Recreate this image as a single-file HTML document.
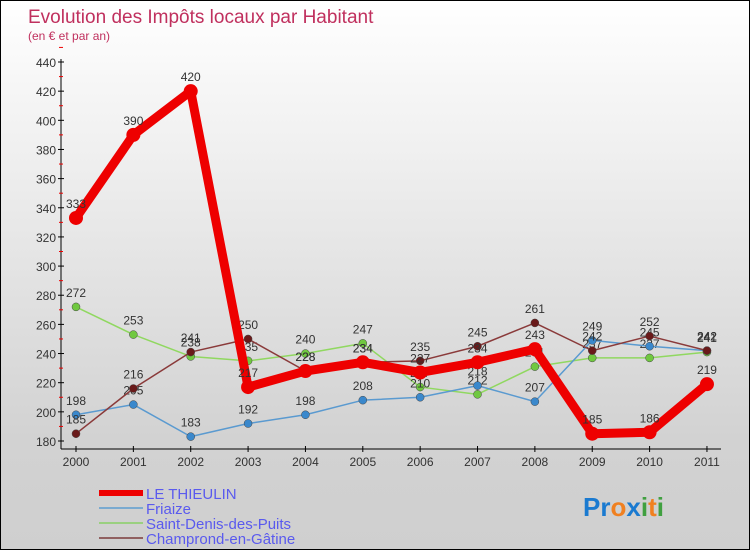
<!DOCTYPE html>
<html><head><meta charset="utf-8"><style>
body{margin:0}
#c{width:748px;height:548px;border:1px solid #000;background:linear-gradient(#fff,#d2d2d2 80%,#cfcfcf);position:relative;overflow:hidden;font-family:"Liberation Sans",sans-serif}
</style></head><body>
<div id="c">
<svg width="748" height="548" id="svg">
<text x="27" y="22" font-size="19" fill="#c0305e">Evolution des Impôts locaux par Habitant</text>
<text x="27" y="39" font-size="12" fill="#c0305e">(en € et par an)</text>
<g id="axes"></g><g id="series"></g><g id="legend"></g>
<text x="582" y="515" font-size="26" font-weight="bold"><tspan fill="#1a7ad0">Pr</tspan><tspan fill="#f08020">o</tspan><tspan fill="#1a7ad0">x</tspan><tspan fill="#40a040">i</tspan><tspan fill="#f08020">t</tspan><tspan fill="#40a040">i</tspan></text>
</svg></div>
<script>
const years=["2000","2001","2002","2003","2004","2005","2006","2007","2008","2009","2010","2011"];
const yTicks=[180,200,220,240,260,280,300,320,340,360,380,400,420,440];
const thieulin=[333,390,420,217,228,234,227,234,243,185,186,219];
const friaize=[198,205,183,192,198,208,210,218,207,249,245,242];
const saintDenis=[272,253,238,235,240,247,217,212,231,237,237,241];
const champrond=[185,216,241,250,228,234,235,245,261,242,252,242];
const names=["LE THIEULIN","Friaize","Saint-Denis-des-Puits","Champrond-en-Gâtine"];
const NS="http://www.w3.org/2000/svg";
function X(i){return 75+i*57.36;}
function Y(v){return 440-(v-180)*379/260;}
function mk(t,a,p){const e=document.createElementNS(NS,t);for(const k in a)e.setAttribute(k,a[k]);p.appendChild(e);return e;}
const ax=document.getElementById('axes');
const yl=mk('line',{x1:60,y1:58,x2:60,y2:448,stroke:'#000'},ax);


yTicks.forEach(v=>{
 mk('line',{x1:57,x2:63,y1:Y(v),y2:Y(v),stroke:'#000'},ax);
 mk('line',{x1:58,x2:62,y1:Y(v+10),y2:Y(v+10),stroke:'#e00'},ax);
 const t=mk('text',{x:55,y:Y(v)+5,'font-size':12,'text-anchor':'end',fill:'#333'},ax);t.textContent=v;
 
 
});
const xl=mk('line',{x1:60,y1:448,x2:720,y2:448,stroke:'#000'},ax);


years.forEach((y,i)=>{
 mk('line',{x1:X(i),x2:X(i),y1:445,y2:451,stroke:'#000'},ax);
 const t=mk('text',{x:X(i),y:465,'font-size':12,'text-anchor':'middle',fill:'#333'},ax);t.textContent=y;
 
 
});
const S=[[saintDenis,'#90d860','#70c840',1.5,4,'series-saint-denis'],[friaize,'#5a9ad0','#3a88cc',1.5,4,'series-friaize'],[champrond,'#8a3a3a','#6a1a1a',1.5,4,'series-champrond'],[thieulin,'#ee0000','#ee0000',9,7,'series-le-thieulin']];
const sg=document.getElementById('series');
S.forEach(([d,c,mc,w,r,n])=>{
 const g=mk('g',{},sg);
 
 
 mk('polyline',{points:d.map((v,i)=>X(i)+','+Y(v)).join(' '),fill:'none',stroke:c,'stroke-width':w,'stroke-linejoin':'round'},g);
 d.forEach((v,i)=>{
  const p=mk('circle',{cx:X(i),cy:Y(v),r:r,fill:mc,stroke:w>2?'none':'#444','stroke-width':0.5},g);
  
  
  const t=mk('text',{x:X(i),y:Y(v)-10,'font-size':12,'text-anchor':'middle',fill:'#333'},g);t.textContent=v;
  
  
 });
});
const lg=document.getElementById('legend');
const lc=[['#ee0000',6],['#7aaad0',2],['#9ad080',2],['#906060',2]];
names.forEach((n,i)=>{
 const y=492+i*15;
 const g=mk('g',{},lg);
 
 
 mk('line',{x1:98,x2:142,y1:y,y2:y,stroke:lc[i][0],'stroke-width':lc[i][1]},g);
 const t=mk('text',{x:145,y:y+6,'font-size':15,fill:'#5a5aee'},g);t.textContent=n;
});
</script>
</body></html>
